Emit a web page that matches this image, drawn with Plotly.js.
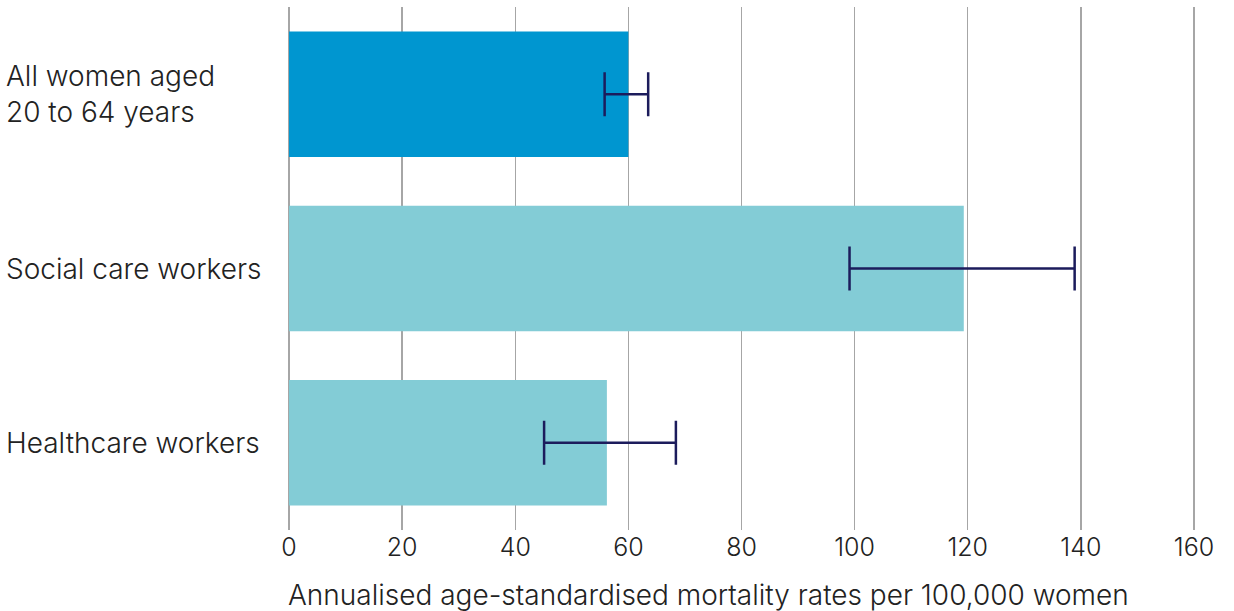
<!DOCTYPE html>
<html><head><meta charset="utf-8">
<script src="https://cdn.plot.ly/plotly-3.0.1.min.js"></script>
<style>html,body{margin:0;padding:0;background:#fff}#chart{width:1234px;height:611px}</style>
</head><body><div id="chart"></div>
<script>
const categories = ["All women aged<br>20 to 64 years", "Social care workers", "Healthcare workers"];
const rates = [60.0, 119.3, 56.2];
const lowerCI = [55.8, 99.1, 45.1];
const upperCI = [63.5, 138.9, 68.4];
const barColors = ["#0096d0", "#83ccd6", "#83ccd6"];
const xTicks = [0, 20, 40, 60, 80, 100, 120, 140, 160];
const xTitle = "Annualised age-standardised mortality rates per 100,000 women";

const FONT = "Inter, 'Noto Sans', sans-serif";
const trace = {
  type: "bar", orientation: "h",
  y: categories, x: rates,
  marker: {color: barColors, line: {width: 0}},
  error_x: {
    type: "data", symmetric: false,
    array: rates.map((r, i) => upperCI[i] - r),
    arrayminus: rates.map((r, i) => r - lowerCI[i]),
    color: "#1c1c5c", thickness: 2.5, width: 22
  },
  hoverinfo: "none"
};
const PW = 907;
const annotations = categories.map(c => ({
  xref: "paper", yref: "y", x: -284/PW, y: c, xanchor: "left", yanchor: "middle",
  align: "left", text: c, showarrow: false,
  font: {family: FONT, size: 28, color: "#222", weight: 300}
}));
annotations.push({
  xref: "paper", yref: "paper", x: -2/PW, y: -0.124, xanchor: "left", yanchor: "middle",
  text: xTitle, showarrow: false,
  font: {family: FONT, size: 28, color: "#222", weight: 300}
});
const layout = {
  width: 1234, height: 611,
  margin: {l: 288, r: 39, t: 7, b: 81},
  paper_bgcolor: "#fff", plot_bgcolor: "#fff",
  bargap: 0.28, showlegend: false,
  font: {family: FONT, color: "#222", weight: 300},
  xaxis: {
    range: [-0.18, 160.18], tickvals: xTicks, ticktext: xTicks.map(String),
    showgrid: true, gridcolor: "#a6a6a6", gridwidth: 1.5,
    zeroline: false, showline: false, ticks: "",
    tickfont: {family: FONT, size: 25, color: "#222", weight: 300}
  },
  yaxis: {
    autorange: "reversed", range: [2.5, -0.5], showticklabels: false,
    showgrid: false, zeroline: false, showline: false, ticks: ""
  },
  annotations: annotations
};
Plotly.newPlot("chart", [trace], layout, {displayModeBar: false, staticPlot: true});
</script></body></html>
